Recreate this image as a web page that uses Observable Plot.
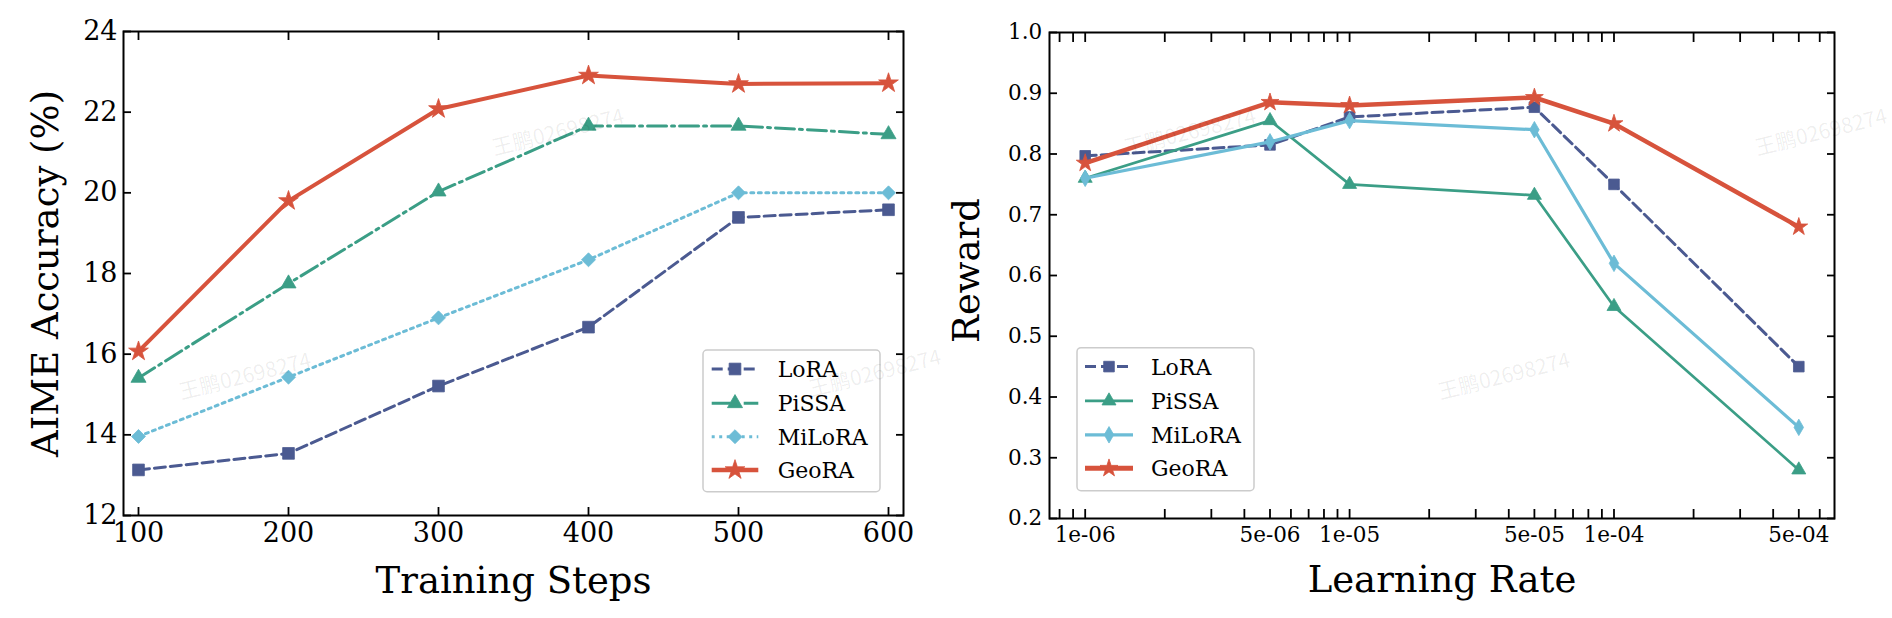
<!DOCTYPE html>
<html><head><meta charset="utf-8">
<script src="https://cdn.jsdelivr.net/npm/d3@7"></script>
<script src="https://cdn.jsdelivr.net/npm/@observablehq/plot@0.6"></script>
<style>
body{margin:0;background:#fff;}
#wrap{position:relative;width:1892px;height:618px;overflow:hidden;font-family:"DejaVu Serif";color:#000;}
.panel{position:absolute;top:0;}
#overlay{position:absolute;left:0;top:0;pointer-events:none;}
</style></head><body><div id="wrap"></div>
<script>
// ---------- data ----------
const methods = ["LoRA", "PiSSA", "MiLoRA", "GeoRA"];
const colors = ["#4b5a91", "#3b9e86", "#6cbcd6", "#d7533c"];

const steps = [100, 200, 300, 400, 500, 600];
const aimeLoRA   = [13.13, 13.54, 15.21, 16.67, 19.39, 19.58];
const aimePiSSA  = [15.41, 17.75, 20.03, 21.66, 21.66, 21.45];
const aimeMiLoRA = [13.96, 15.43, 16.90, 18.34, 20.00, 20.00];
const aimeGeoRA  = [16.07, 19.80, 22.08, 22.91, 22.70, 22.72];
const aimeTicks = [12, 14, 16, 18, 20, 22, 24];

const lrs = [1e-6, 5e-6, 1e-5, 5e-5, 1e-4, 5e-4];
const lrLabels = ["1e-06", "5e-06", "1e-05", "5e-05", "1e-04", "5e-04"];
const lrMinor = [8e-7, 9e-7, 2e-6, 3e-6, 4e-6, 6e-6, 7e-6, 8e-6, 9e-6, 2e-5, 3e-5, 4e-5, 6e-5, 7e-5, 8e-5, 9e-5, 2e-4, 3e-4, 4e-4, 6e-4];
const rewardLoRA   = [0.797, 0.815, 0.861, 0.877, 0.750, 0.450];
const rewardPiSSA  = [0.760, 0.855, 0.750, 0.732, 0.549, 0.280];
const rewardMiLoRA = [0.760, 0.820, 0.855, 0.840, 0.620, 0.350];
const rewardGeoRA  = [0.785, 0.885, 0.880, 0.893, 0.850, 0.680];
const rewardTicks = [0.2, 0.3, 0.4, 0.5, 0.6, 0.7, 0.8, 0.9, 1.0];

const watermark = "王鹏02698274";

// ---------- styles ----------
const leftStyle = {
  LoRA:   {dash: "11,5",  width: 3,   symbol: "square",   r: 6.6},
  PiSSA:  {dash: "19,5,3,5", width: 3, symbol: "triangle", r: 5.6},
  MiLoRA: {dash: "3,4.5", width: 3,   symbol: "diamond2", r: 6.3},
  GeoRA:  {dash: null,    width: 4,   symbol: "star",     r: 6.2}
};
const rightStyle = {
  LoRA:   {dash: "11,5", width: 3,   symbol: "square",   r: 6.0},
  PiSSA:  {dash: null,   width: 2.7, symbol: "triangle", r: 5.2},
  MiLoRA: {dash: null,   width: 3.2, symbol: "diamond",  r: 5.0},
  GeoRA:  {dash: null,   width: 4.5, symbol: "star",     r: 5.6}
};

const leftSeries = [aimeLoRA, aimePiSSA, aimeMiLoRA, aimeGeoRA];
const rightSeries = [rewardLoRA, rewardPiSSA, rewardMiLoRA, rewardGeoRA];

function seriesMarks(xs, series, styles) {
  const marks = [];
  methods.forEach((m, i) => {
    const data = xs.map((x, j) => ({x, y: series[i][j], method: m}));
    const s = styles[m];
    marks.push(Plot.line(data, {x: "x", y: "y", stroke: colors[i], strokeWidth: s.width,
      strokeDasharray: s.dash, strokeLinejoin: "round"}));
    marks.push(Plot.dot(data, {x: "x", y: "y", symbol: s.symbol, r: s.r, fill: colors[i], stroke: colors[i], strokeWidth: 0.8}));
  });
  return marks;
}

const wrap = document.getElementById("wrap");

// ---------- left chart ----------
const left = Plot.plot({
  width: 946, height: 618,
  marginLeft: 123, marginRight: 43, marginTop: 31, marginBottom: 103,
  style: {fontFamily: "DejaVu Serif", background: "transparent", overflow: "visible", color: "#000"},
  x: {domain: [90, 610]},
  y: {domain: [12, 24]},
  marks: [
    Plot.axisX({anchor: "bottom", ticks: steps, tickSize: -8, tickPadding: 15, fontSize: 27, label: null, strokeWidth: 1.8, tickFormat: d => String(d)}),
    Plot.axisX({anchor: "top", ticks: steps, tickSize: -8, label: null, strokeWidth: 1.8, tickFormat: () => ""}),
    Plot.axisY({anchor: "left", ticks: aimeTicks, tickSize: -8, tickPadding: 14, fontSize: 27, label: null, strokeWidth: 1.8, tickFormat: d => String(d)}),
    Plot.axisY({anchor: "right", ticks: aimeTicks, tickSize: -8, label: null, strokeWidth: 1.8, tickFormat: () => ""}),
    ...seriesMarks(steps, leftSeries, leftStyle),
    Plot.frame({stroke: "#000", strokeWidth: 2}),
    Plot.text(["Training Steps"], {frameAnchor: "bottom", dy: 77, lineAnchor: "bottom", textAnchor: "middle", fontSize: 37, fill: "#000"}),
    Plot.text(["AIME Accuracy (%)"], {frameAnchor: "left", dx: -77, rotate: -90, textAnchor: "middle", lineAnchor: "middle", fontSize: 37, fill: "#000"})
  ]
});
left.classList.add("panel");
left.style.left = "0px";
wrap.appendChild(left);

// ---------- right chart ----------
const right = Plot.plot({
  width: 946, height: 618,
  marginLeft: 103, marginRight: 58, marginTop: 32, marginBottom: 100,
  style: {fontFamily: "DejaVu Serif", background: "transparent", overflow: "visible", color: "#000"},
  x: {type: "log", domain: [Math.pow(10, -6.135), Math.pow(10, -3.166)]},
  y: {domain: [0.2, 1.0]},
  marks: [
    Plot.axisX({anchor: "bottom", ticks: lrs.concat(lrMinor), tickSize: -9, label: null, strokeWidth: 1.8, tickFormat: () => ""}),
    Plot.axisX({anchor: "top", ticks: lrs.concat(lrMinor), tickSize: -9, label: null, strokeWidth: 1.8, tickFormat: () => ""}),
    Plot.text(lrs, {x: d => d, text: (d, i) => lrLabels[i], frameAnchor: "bottom", dy: 8.6, lineAnchor: "top", textAnchor: "middle", fontSize: 21.5, fill: "#000"}),
    Plot.axisY({anchor: "left", ticks: rewardTicks, tickSize: -8, tickPadding: 15.3, fontSize: 21.5, label: null, strokeWidth: 1.8, tickFormat: d3.format(".1f")}),
    Plot.axisY({anchor: "right", ticks: rewardTicks, tickSize: -8, label: null, strokeWidth: 1.8, tickFormat: () => ""}),
    ...seriesMarks(lrs, rightSeries, rightStyle),
    Plot.frame({stroke: "#000", strokeWidth: 2}),
    Plot.text(["Learning Rate"], {frameAnchor: "bottom", dy: 73, lineAnchor: "bottom", textAnchor: "middle", fontSize: 37, fill: "#000"}),
    Plot.text(["Reward"], {frameAnchor: "left", dx: -82, dy: -5, rotate: -90, textAnchor: "middle", lineAnchor: "middle", fontSize: 37, fill: "#000"})
  ]
});
right.classList.add("panel");
right.style.left = "946px";
wrap.appendChild(right);

// ---------- legends & watermark overlay ----------
const svg = d3.select(wrap).append("svg").attr("id", "overlay")
  .attr("width", 1892).attr("height", 618);

const symbolMap = {square: d3.symbolSquare, triangle: d3.symbolTriangle, diamond: d3.symbolDiamond,
  diamond2: d3.symbolDiamond2, star: d3.symbolStar};

function legend(box, rows, x0, x1, tx, styles) {
  svg.append("rect").attr("x", box[0]).attr("y", box[1]).attr("width", box[2] - box[0]).attr("height", box[3] - box[1])
    .attr("rx", 4).attr("fill", "rgba(255,255,255,0.8)").attr("stroke", "#cccccc").attr("stroke-width", 1.5);
  methods.forEach((m, i) => {
    const s = styles[m], y = rows[i];
    svg.append("line").attr("x1", x0).attr("x2", x1).attr("y1", y).attr("y2", y)
      .attr("stroke", colors[i]).attr("stroke-width", s.width + (m === "GeoRA" ? 0.5 : 0))
      .attr("stroke-dasharray", s.dash);
    svg.append("path").attr("transform", `translate(${(x0 + x1) / 2},${y})`)
      .attr("d", d3.symbol(symbolMap[s.symbol], s.r * s.r * Math.PI)())
      .attr("fill", colors[i]).attr("stroke", colors[i]).attr("stroke-width", 0.8);
    svg.append("text").attr("x", tx).attr("y", y).attr("dy", "0.36em").attr("font-size", 22)
      .attr("font-family", "DejaVu Serif").attr("fill", "#000").text(m);
  });
}
legend([703, 350, 880, 491.7], [369, 403.3, 436.7, 470], 711.7, 758.3, 777.7, leftStyle);
legend([1077, 347.7, 1254, 490.7], [366.6, 400.9, 434.8, 468.3], 1085, 1133, 1151, rightStyle);

const wm = [[245, 376], [558, 132], [875, 373], [1190, 132], [1504, 376], [1821, 132]];
wm.forEach(([x, y]) => {
  svg.append("text").attr("transform", `translate(${x},${y}) rotate(-14)`)
    .attr("text-anchor", "middle").attr("dy", "0.35em").attr("font-size", 21)
    .attr("font-family", "Noto Sans CJK SC, DejaVu Sans").attr("fill", "#000").attr("fill-opacity", 0.07)
    .text(watermark);
});
</script>
</body></html>
